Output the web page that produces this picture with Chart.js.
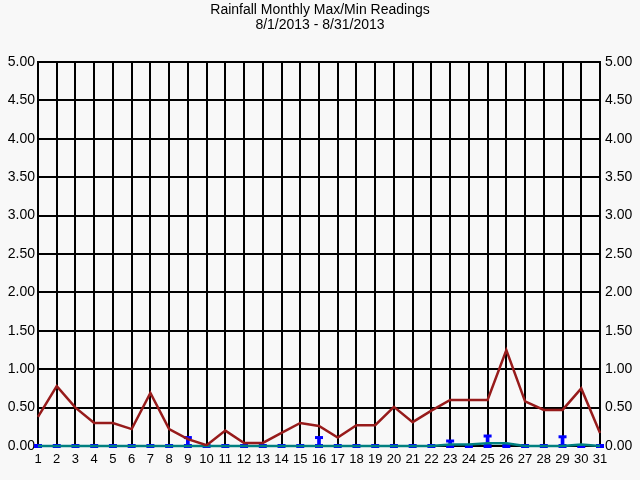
<!DOCTYPE html>
<html>
<head>
<meta charset="utf-8">
<script src="https://cdn.jsdelivr.net/npm/chart.js@4"></script>
<style>
  html, body { margin: 0; padding: 0; background: #f8f8f8; }
  #rainChart { display: block; }
</style>
</head>
<body>
<canvas id="rainChart" width="640" height="480"></canvas>
<script>
// Days of the month (x categories)
const days = ['1','2','3','4','5','6','7','8','9','10','11','12','13','14','15','16',
              '17','18','19','20','21','22','23','24','25','26','27','28','29','30','31'];

// Max readings (dark red line)
const maxReadings = [0.38, 0.78, 0.50, 0.30, 0.30, 0.22, 0.69, 0.22, 0.09, 0.01,
                     0.20, 0.04, 0.04, 0.17, 0.30, 0.26, 0.11, 0.27, 0.27, 0.51,
                     0.31, 0.46, 0.60, 0.60, 0.60, 1.25, 0.58, 0.47, 0.47, 0.75, 0.17];

// Min readings (teal line)
const minReadings = [0, 0, 0, 0, 0, 0, 0, 0, 0, 0,
                     0, 0, 0, 0, 0, 0, 0, 0, 0, 0,
                     0, 0, 0.02, 0.02, 0.035, 0.035, 0, 0, 0, 0.02, 0];

// Daily totals (blue stems with caps)
const dailyTotals = [0, 0, 0, 0, 0, 0, 0, 0, 0.11, 0,
                     0, 0, 0, 0, 0, 0.11, 0, 0, 0, 0,
                     0, 0, 0.065, 0, 0.13, 0, 0, 0, 0.12, 0, 0];

// Baseline markers (blue dashes at zero)
const baseMarks = days.map(() => 0);

// Y tick range
const yMin = 0;
const yMax = 5;
const yStep = 0.5;

const FONT = "'Liberation Sans', Arial, sans-serif";
const INK = '#000';

const ctx = document.getElementById('rainChart').getContext('2d');
new Chart(ctx, {
  data: {
    labels: days,
    datasets: [
      {
        type: 'line',
        label: 'Max',
        data: maxReadings,
        borderColor: '#971b1b',
        borderWidth: 2.5,
        pointRadius: 0,
        tension: 0,
        order: 1
      },
      {
        type: 'line',
        label: 'Min',
        data: minReadings,
        borderColor: '#008080',
        borderWidth: 2.5,
        pointRadius: 0,
        tension: 0,
        clip: false,
        order: 2
      },
      {
        type: 'line',
        label: 'Total cap',
        data: dailyTotals.map(v => (v > 0 ? v : null)),
        showLine: false,
        pointStyle: 'line',
        pointRadius: 4,
        pointBorderWidth: 3,
        borderColor: '#0000ff',
        backgroundColor: '#0000ff',
        clip: false,
        order: 3
      },
      {
        type: 'line',
        label: 'Base',
        data: baseMarks,
        showLine: false,
        pointStyle: 'line',
        pointRadius: 4,
        pointBorderWidth: 4,
        borderColor: '#0000ff',
        backgroundColor: '#0000ff',
        clip: false,
        order: 4
      },
      {
        type: 'bar',
        label: 'Total',
        data: dailyTotals,
        backgroundColor: '#0000ff',
        barThickness: 3,
        order: 5
      }
    ]
  },
  options: {
    responsive: false,
    animation: false,
    layout: { padding: { top: 1 } },
    plugins: {
      legend: { display: false },
      tooltip: { enabled: false },
      title: {
        display: true,
        text: ['Rainfall Monthly Max/Min Readings', '8/1/2013 - 8/31/2013'],
        color: INK,
        font: { family: FONT, size: 14, weight: 'normal', lineHeight: 1.07 },
        padding: { top: 2, bottom: 29 }
      }
    },
    scales: {
      x: {
        type: 'category',
        offset: false,
        grid: { color: INK, lineWidth: 2, drawTicks: false, offset: false },
        border: { color: INK, width: 2 },
        ticks: {
          color: INK,
          autoSkip: false,
          maxRotation: 0,
          padding: 6,
          font: { family: FONT, size: 13 }
        },
        afterFit: (scale) => { scale.height = 34; }
      },
      y: {
        position: 'left',
        min: yMin,
        max: yMax,
        grid: { color: INK, lineWidth: 2, drawTicks: false },
        border: { color: INK, width: 2 },
        ticks: {
          stepSize: yStep,
          color: INK,
          padding: 3,
          font: { family: FONT, size: 14 },
          callback: (v) => v.toFixed(2)
        },
        afterFit: (scale) => { scale.width = 38; }
      },
      y2: {
        position: 'right',
        min: yMin,
        max: yMax,
        grid: { display: false, drawTicks: false },
        border: { color: INK, width: 2 },
        ticks: {
          stepSize: yStep,
          color: INK,
          padding: 5,
          font: { family: FONT, size: 14 },
          callback: (v) => v.toFixed(2)
        },
        afterFit: (scale) => { scale.width = 40; }
      }
    }
  }
});
</script>
</body>
</html>
